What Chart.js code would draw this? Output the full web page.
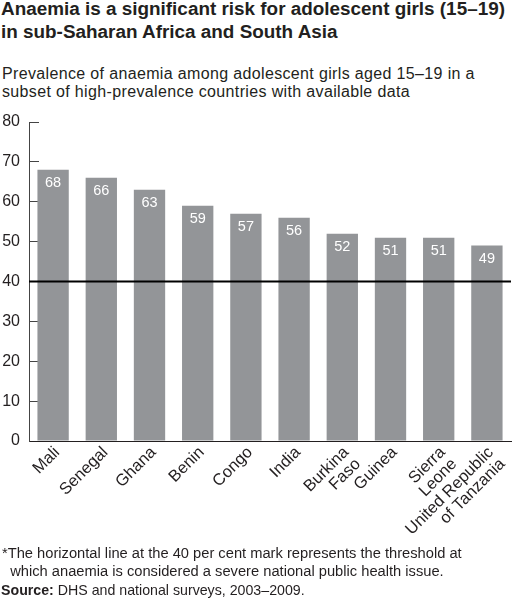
<!DOCTYPE html>
<html>
<head>
<meta charset="utf-8">
<script src="https://cdn.jsdelivr.net/npm/chart.js@4"></script>
<style>
body{margin:0;width:514px;height:600px;position:relative;background:#fff;overflow:hidden;
  font-family:"Liberation Sans",Arial,sans-serif;color:#231f20}
.title{position:absolute;left:1px;top:-3px;font-weight:bold;font-size:18.9px;line-height:23px}
.sub{position:absolute;left:2px;top:65px;font-size:16px;letter-spacing:0.35px;line-height:18px}
.note{position:absolute;left:2px;top:544px;font-size:14.7px;line-height:18px}
.src{position:absolute;left:1px;top:582px;font-size:14.2px}
#wrap{position:absolute;left:0;top:110px}
</style>
</head>
<body>
<div class="title">Anaemia is a significant risk for adolescent girls (15–19)<br>in sub-Saharan Africa and South Asia</div>
<div class="sub">Prevalence of anaemia among adolescent girls aged 15–19 in a<br>subset of high-prevalence countries with available data</div>
<div id="wrap"><canvas id="anaemia" width="514" height="440"></canvas></div>
<div class="note">*The horizontal line at the 40 per cent mark represents the threshold at<br>&nbsp;&nbsp;which anaemia is considered a severe national public health issue.</div>
<div class="src"><b>Source:</b> DHS and national surveys, 2003–2009.</div>
<script>
// data
const countries = ['Mali','Senegal','Ghana','Benin','Congo','India',['Burkina','Faso'],'Guinea',['Sierra','Leone'],['United Republic','of Tanzania']]
const prevalence = [68,66,63,59,57,56,52,51,51,49]
const yMin = 0
const yMax = 80
const yStep = 10
const threshold = 40

const ink = '#231f20'
const axisGrey = '#444'
const barGrey = '#939598'
const fontFamily = '"Liberation Sans", Arial, sans-serif'

// white numbers at the top of each bar
const valueLabels = {
  id:'valueLabels',
  afterDatasetsDraw(chart){
    const ctx = chart.ctx
    const meta = chart.getDatasetMeta(0)
    ctx.save()
    ctx.fillStyle = '#fff'
    ctx.font = '14.5px ' + fontFamily
    ctx.textAlign = 'center'
    ctx.textBaseline = 'middle'
    meta.data.forEach((bar,i)=>{
      ctx.fillText(prevalence[i], bar.x, bar.y + 13)
    })
    ctx.restore()
  }
}

// 40 per cent threshold line
const thresholdLine = {
  id:'thresholdLine',
  afterDatasetsDraw(chart){
    const {ctx, chartArea, scales} = chart
    const y = scales.y.getPixelForValue(threshold)
    ctx.save()
    ctx.strokeStyle = '#000'
    ctx.lineWidth = 2
    ctx.beginPath()
    ctx.moveTo(chartArea.left, y)
    ctx.lineTo(chartArea.right, y)
    ctx.stroke()
    ctx.restore()
  }
}

const ctx = document.getElementById('anaemia').getContext('2d')
const chart = new Chart(ctx,{
  type:'bar',
  data:{
    labels:countries,
    datasets:[{
      data:prevalence,
      backgroundColor:barGrey,
      categoryPercentage:1,
      barPercentage:0.65
    }]
  },
  options:{
    responsive:false,
    animation:false,
    layout:{padding:{top:12,right:3,left:0,bottom:0}},
    plugins:{legend:{display:false},tooltip:{enabled:false}},
    scales:{
      x:{
        grid:{drawOnChartArea:false,drawTicks:false},
        border:{color:ink,width:1},
        ticks:{
          autoSkip:false,maxRotation:45,minRotation:45,padding:3,labelOffset:4,
          color:ink,font:{family:fontFamily,size:16.5,lineHeight:1.0}
        },
        afterFit(scale){ scale.height = 109 }
      },
      y:{
        min:yMin,max:yMax,
        grid:{drawOnChartArea:false,drawTicks:true,tickLength:-10,color:axisGrey},
        border:{color:axisGrey,width:1},
        ticks:{
          stepSize:yStep,padding:19,
          color:ink,font:{family:fontFamily,size:16}
        },
        afterFit(scale){
          // fixed axis width, and no extra vertical padding from the tick padding
          scale.width = 29
          scale.paddingTop = 0
          scale.paddingBottom = 0
        }
      }
    }
  },
  plugins:[valueLabels,thresholdLine]
})
</script>
</body>
</html>
